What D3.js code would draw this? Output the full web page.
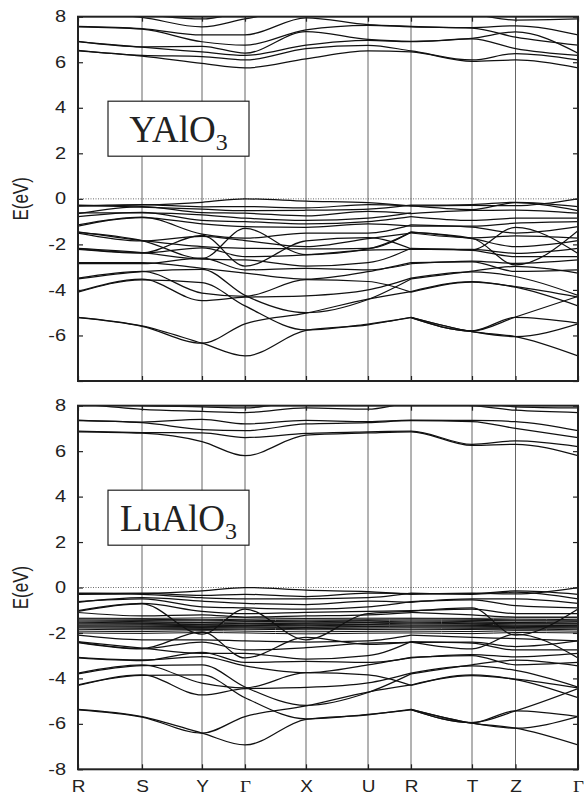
<!DOCTYPE html>
<html lang="en">
<head>
<meta charset="UTF-8">
<title>YAlO3 / LuAlO3 band structure</title>
<script src="https://d3js.org/d3.v7.min.js"></script>
<style>
  body { margin: 0; background: #fff; }
  svg { display: block; font-family: "Liberation Sans", Arial, sans-serif; }
  .band { fill: none; stroke: #111; stroke-width: 1.25px; }
  .fband { fill: none; stroke: #111; stroke-width: 1px; }
  .kline { stroke: #666; stroke-width: 1px; }
  .fermi { stroke: #444; stroke-width: 0.8px; stroke-dasharray: 1,1.5; }
  .frame { fill: none; stroke: #222; stroke-width: 2px; }
  .axis path { display: none; }
  .axis line { stroke: #222; stroke-width: 1.2px; }
  .axis text { fill: #222; }
</style>
</head>
<body>
<svg width="584" height="798"></svg>
<script>
// k-path: high symmetry points and their relative positions along the path
const kLabels = ["R", "S", "Y", "Γ", "X", "U", "R", "T", "Z", "Γ"];
const kPos = [0, 0.128, 0.248, 0.334, 0.456, 0.580, 0.666, 0.788, 0.875, 1.0];
const eTicks = [8, 6, 4, 2, 0, -2, -4, -6, -8];

// YAlO3 valence bands, values at R S Y Γ X U R
const yaloLeft = [
  [-5.20, -5.58, -6.34, -6.90, -5.78, -5.53, -5.20],
  [-5.22, -5.60, -6.34, -5.49, -5.02, -4.40, -4.07],
  [-4.07, -3.53, -4.47, -4.32, -4.26, -4.00, -3.48],
  [-4.10, -3.56, -3.68, -4.70, -5.76, -5.50, -5.22],
  [-3.48, -3.18, -4.14, -4.28, -3.55, -3.63, -4.10],
  [-3.52, -3.20, -3.10, -4.24, -5.00, -4.42, -3.52],
  [-2.80, -2.80, -3.05, -3.26, -3.53, -3.20, -2.80],
  [-2.85, -2.85, -2.60, -3.12, -3.05, -3.12, -2.85],
  [-2.17, -2.36, -2.65, -2.68, -2.95, -2.80, -2.17],
  [-2.22, -2.38, -2.15, -2.54, -2.46, -2.25, -2.22],
  [-1.45, -1.83, -2.10, -2.17, -2.20, -2.17, -1.45],
  [-1.50, -1.85, -1.65, -1.83, -2.10, -1.75, -1.50],
  [-1.47, -1.83, -2.62, -1.30, -2.45, -2.20, -1.47],
  [-2.19, -2.37, -1.60, -2.95, -1.85, -1.70, -2.19],
  [-1.14, -0.80, -1.55, -1.73, -1.50, -1.50, -1.14],
  [-1.20, -0.82, -1.10, -1.22, -1.25, -1.10, -1.20],
  [-0.78, -0.59, -0.95, -1.00, -1.10, -1.00, -0.78],
  [-0.62, -0.62, -0.70, -0.85, -0.95, -0.85, -0.62],
  [-0.65, -0.34, -0.60, -0.63, -0.75, -0.55, -0.65],
  [-0.28, -0.36, -0.45, -0.52, -0.50, -0.45, -0.28],
  [-0.30, -0.25, -0.35, -0.34, -0.40, -0.25, -0.30],
  [-0.32, -0.27, -0.15, 0.00, -0.10, -0.17, -0.32]
];
// YAlO3 valence bands, values at R T Z Γ
const yaloRight = [
  [-5.20, -5.83, -6.05, -6.90],
  [-5.20, -5.83, -6.05, -5.49],
  [-5.22, -5.80, -5.21, -5.46],
  [-5.22, -5.80, -5.19, -4.28],
  [-4.07, -3.63, -3.88, -4.70],
  [-4.10, -3.66, -3.86, -4.32],
  [-3.48, -3.21, -3.41, -4.24],
  [-3.52, -3.17, -2.97, -3.26],
  [-2.80, -2.77, -3.19, -3.12],
  [-2.85, -2.73, -2.83, -2.68],
  [-2.17, -2.26, -2.54, -2.54],
  [-2.22, -2.22, -2.39, -2.17],
  [-1.47, -1.73, -2.90, -1.40],
  [-2.20, -2.24, -1.25, -2.40],
  [-1.45, -1.75, -2.10, -1.83],
  [-1.50, -1.71, -1.63, -1.73],
  [-1.14, -1.24, -1.50, -1.22],
  [-1.20, -1.20, -1.07, -1.00],
  [-0.78, -0.95, -0.85, -0.85],
  [-0.65, -0.51, -0.49, -0.63],
  [-0.30, -0.47, -0.17, -0.52],
  [-0.28, -0.25, -0.15, -0.34],
  [-0.32, -0.29, -0.30, 0.00]
];
// YAlO3 conduction bands, values at all ten points
const yaloCond = [
  [6.50, 6.27, 5.95, 5.75, 6.15, 6.50, 6.45, 6.04, 6.10, 5.75],
  [6.52, 6.30, 6.25, 6.10, 6.60, 6.74, 6.50, 6.10, 6.38, 6.10],
  [6.90, 6.66, 6.45, 6.30, 6.75, 6.96, 6.90, 7.03, 6.60, 6.30],
  [6.92, 6.68, 6.70, 6.40, 7.35, 7.00, 6.92, 7.05, 7.33, 6.40],
  [7.55, 7.45, 6.90, 6.75, 7.42, 7.62, 7.55, 7.50, 7.10, 6.75],
  [7.58, 7.48, 7.20, 7.20, 7.95, 7.65, 7.58, 7.52, 7.60, 7.20],
  [8.20, 7.97, 7.55, 7.90, 8.30, 8.20, 8.20, 8.10, 7.85, 7.90],
  [8.30, 8.10, 7.90, 8.20, 8.50, 8.40, 8.30, 8.30, 8.10, 8.30]
];

// LuAlO3 valence bands, values at R S Y Γ X U R
const luLeft = [
  [-5.36, -5.68, -6.41, -6.93, -5.80, -5.60, -5.36],
  [-5.38, -5.70, -6.41, -5.68, -5.21, -4.60, -4.29],
  [-4.29, -3.85, -4.73, -4.45, -4.40, -4.20, -3.77],
  [-4.31, -3.87, -3.85, -4.85, -5.78, -5.58, -5.38],
  [-3.77, -3.41, -4.21, -4.42, -3.75, -3.85, -4.31],
  [-3.80, -3.44, -3.40, -4.38, -5.19, -4.62, -3.80],
  [-3.07, -3.19, -3.04, -3.45, -3.75, -3.40, -3.07],
  [-3.10, -3.22, -2.85, -3.30, -3.25, -3.30, -3.10],
  [-2.38, -2.67, -2.90, -2.90, -3.15, -3.00, -2.38],
  [-2.42, -2.70, -2.40, -2.75, -2.65, -2.45, -2.42],
  [-2.40, -2.68, -1.95, -3.10, -2.20, -2.50, -2.40],
  [-2.10, -2.30, -2.30, -2.35, -2.40, -2.35, -2.10],
  [-1.10, -1.25, -1.20, -1.30, -1.25, -1.20, -1.10],
  [-1.05, -0.72, -2.05, -0.95, -2.30, -1.15, -1.05],
  [-1.02, -0.70, -1.05, -1.15, -1.10, -1.05, -1.02],
  [-0.62, -0.50, -0.85, -0.90, -0.95, -0.85, -0.62],
  [-0.65, -0.45, -0.60, -0.70, -0.75, -0.60, -0.65],
  [-0.25, -0.30, -0.45, -0.50, -0.50, -0.45, -0.25],
  [-0.27, -0.25, -0.35, -0.30, -0.40, -0.25, -0.27],
  [-0.30, -0.27, -0.15, 0.00, -0.12, -0.18, -0.30]
];
// LuAlO3 valence bands, values at R T Z Γ
const luRight = [
  [-5.36, -5.97, -6.19, -6.93],
  [-5.36, -5.97, -6.19, -5.68],
  [-5.38, -5.95, -5.43, -5.68],
  [-5.38, -5.95, -5.43, -4.45],
  [-4.29, -3.85, -4.05, -4.85],
  [-4.31, -3.88, -4.03, -4.42],
  [-3.77, -3.45, -3.65, -4.38],
  [-3.80, -3.40, -3.20, -3.45],
  [-3.07, -3.00, -3.40, -3.30],
  [-3.10, -2.95, -3.05, -2.90],
  [-2.38, -2.45, -2.75, -2.75],
  [-2.42, -2.40, -2.60, -2.35],
  [-2.40, -2.70, -2.05, -3.10],
  [-2.10, -2.20, -2.25, -2.35],
  [-1.10, -1.20, -1.30, -1.30],
  [-1.02, -0.95, -1.15, -1.15],
  [-1.05, -0.90, -2.10, -0.95],
  [-0.62, -0.55, -0.80, -0.90],
  [-0.65, -0.50, -0.50, -0.70],
  [-0.25, -0.30, -0.20, -0.50],
  [-0.27, -0.27, -0.15, -0.30],
  [-0.30, -0.25, -0.28, 0.00]
];
// LuAlO3 Lu 4f bands, values at all ten points
const luF = [
  [-1.35, -1.36, -1.34, -1.33, -1.36, -1.35, -1.35, -1.36, -1.34, -1.33],
  [-1.38, -1.40, -1.42, -1.40, -1.38, -1.40, -1.38, -1.40, -1.42, -1.40],
  [-1.43, -1.45, -1.44, -1.46, -1.44, -1.45, -1.43, -1.45, -1.46, -1.46],
  [-1.48, -1.50, -1.52, -1.50, -1.49, -1.51, -1.48, -1.50, -1.52, -1.50],
  [-1.53, -1.55, -1.54, -1.56, -1.55, -1.54, -1.53, -1.55, -1.54, -1.56],
  [-1.57, -1.58, -1.60, -1.58, -1.59, -1.60, -1.57, -1.59, -1.58, -1.58],
  [-1.61, -1.62, -1.63, -1.64, -1.62, -1.63, -1.61, -1.62, -1.64, -1.64],
  [-1.66, -1.66, -1.68, -1.67, -1.68, -1.66, -1.66, -1.67, -1.68, -1.67],
  [-1.70, -1.71, -1.72, -1.71, -1.70, -1.72, -1.70, -1.71, -1.72, -1.71],
  [-1.74, -1.75, -1.76, -1.75, -1.76, -1.74, -1.74, -1.75, -1.76, -1.75],
  [-1.78, -1.80, -1.80, -1.79, -1.81, -1.79, -1.78, -1.80, -1.80, -1.79],
  [-1.84, -1.86, -1.85, -1.84, -1.86, -1.85, -1.84, -1.85, -1.86, -1.84],
  [-1.92, -1.94, -1.90, -1.92, -1.95, -1.93, -1.92, -1.94, -1.90, -1.92],
  [-2.00, -2.02, -1.98, -2.00, -2.04, -2.01, -2.00, -2.03, -1.98, -2.00]
];
// LuAlO3 conduction bands, values at all ten points
const luCond = [
  [6.85, 6.79, 6.42, 5.80, 6.70, 6.80, 6.85, 6.25, 6.30, 5.80],
  [6.88, 6.82, 6.80, 6.60, 6.78, 6.85, 6.88, 6.30, 6.45, 6.20],
  [7.34, 7.25, 6.95, 6.90, 7.20, 7.25, 7.34, 7.30, 7.00, 6.60],
  [7.36, 7.28, 7.40, 7.20, 7.35, 7.30, 7.36, 7.35, 7.30, 6.90],
  [8.10, 7.84, 7.75, 7.70, 7.90, 7.85, 8.10, 8.00, 7.80, 7.70],
  [8.30, 8.00, 7.95, 7.90, 8.20, 8.10, 8.30, 8.20, 7.95, 7.90]
];

const svg = d3.select("svg");
const left = 78, right = 578;
const x = d3.scaleLinear().domain([0, 1]).range([left, right]);
const stretch = 1.25; // text in the figure is a little wider than tall

const leftIdx = [0, 1, 2, 3, 4, 5, 6];
const rightIdx = [6, 7, 8, 9];
const allIdx = d3.range(10);

function bandLine(idx, y) {
  return d3.line()
    .x((d, i) => x(kPos[idx[i]]))
    .y(d => y(d))
    .curve(d3.curveMonotoneX);
}

function drawPanel(p, n) {
  const y = d3.scaleLinear().domain([-8, 8]).range([p.bottom, p.top]);
  const g = svg.append("g");

  g.append("clipPath").attr("id", "clip" + n)
    .append("rect")
    .attr("x", left).attr("y", p.top)
    .attr("width", right - left).attr("height", p.bottom - p.top);

  // vertical lines at the high symmetry points
  g.selectAll(".kline")
    .data(kPos.slice(1, -1))
    .enter()
    .append("line")
    .attr("class", "kline")
    .attr("x1", d => x(d)).attr("x2", d => x(d))
    .attr("y1", p.top).attr("y2", p.bottom);

  // Fermi level
  g.append("line")
    .attr("class", "fermi")
    .attr("x1", left).attr("x2", right)
    .attr("y1", y(0)).attr("y2", y(0));

  const bands = g.append("g").attr("clip-path", `url(#clip${n})`);
  bands.selectAll(null).data(p.left).enter().append("path")
    .attr("class", "band").attr("d", bandLine(leftIdx, y));
  bands.selectAll(null).data(p.right).enter().append("path")
    .attr("class", "band").attr("d", bandLine(rightIdx, y));
  bands.selectAll(null).data(p.cond).enter().append("path")
    .attr("class", "band").attr("d", bandLine(allIdx, y));
  if (p.f) {
    bands.selectAll(null).data(p.f).enter().append("path")
      .attr("class", "fband").attr("d", bandLine(allIdx, y));
  }

  // compound label in a box
  g.append("rect")
    .attr("x", 108).attr("y", p.top + 84.5)
    .attr("width", 141).attr("height", 55)
    .attr("fill", "#fff").attr("stroke", "#222").attr("stroke-width", 1.2);
  const t = g.append("text")
    .attr("x", 178.5).attr("y", p.top + 125.5)
    .attr("text-anchor", "middle")
    .style("font-family", "'Liberation Serif', 'Times New Roman', serif")
    .style("font-size", "37px")
    .attr("fill", "#222");
  t.append("tspan").text(p.label);
  t.append("tspan").attr("dy", 8).style("font-size", "24px").text("3");

  // y axes, ticks pointing inward
  const ya = g.append("g").attr("class", "axis")
    .attr("transform", `translate(${left},0)`)
    .call(d3.axisLeft(y).tickValues(eTicks).tickSize(-5).tickFormat(d => String(d)));
  ya.selectAll("text")
    .style("font-size", "16px")
    .attr("x", -12 / stretch)
    .attr("transform", `scale(${stretch},1)`)
    .filter(d => d === -8 && !p.showMin).remove();

  g.append("g").attr("class", "axis")
    .attr("transform", `translate(${right},0)`)
    .call(d3.axisRight(y).tickValues(eTicks).tickSize(-5).tickFormat(""));

  // k ticks top and bottom
  g.append("g").attr("class", "axis")
    .attr("transform", `translate(0,${p.top})`)
    .call(d3.axisTop(x).tickValues(kPos).tickSize(-5).tickFormat(""));
  const xa = g.append("g").attr("class", "axis")
    .attr("transform", `translate(0,${p.bottom})`)
    .call(d3.axisBottom(x).tickValues(kPos).tickSize(-5).tickPadding(11)
      .tickFormat((d, i) => p.kText ? kLabels[i] : ""));
  xa.selectAll("text")
    .style("font-size", "17px")
    .attr("transform", "scale(1.12,1)")
    .style("font-family", (d, i) => kLabels[i] === "Γ" ? "'Liberation Serif', serif" : null);

  // axis title
  g.append("text")
    .attr("transform", `translate(28,${(p.top + p.bottom) / 2}) scale(1.3,1) rotate(-90)`)
    .attr("text-anchor", "middle")
    .style("font-size", "17px")
    .attr("fill", "#222")
    .text("E(eV)");

  g.append("rect").attr("class", "frame")
    .attr("x", left).attr("y", p.top)
    .attr("width", right - left).attr("height", p.bottom - p.top);
}

drawPanel({ top: 16.7, bottom: 381, label: "YAlO", left: yaloLeft, right: yaloRight,
            cond: yaloCond, showMin: false, kText: false }, 0);
drawPanel({ top: 405.7, bottom: 769.3, label: "LuAlO", left: luLeft, right: luRight,
            cond: luCond, f: luF, showMin: true, kText: true }, 1);
</script>
</body>
</html>
